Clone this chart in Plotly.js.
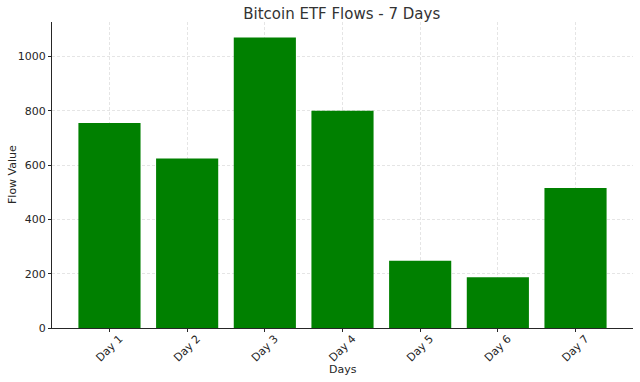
<!DOCTYPE html>
<html>
<head>
<meta charset="utf-8">
<script src="https://cdn.plot.ly/plotly-3.0.1.min.js"></script>
<style>html,body{margin:0;padding:0;background:#fff;}#chart{width:640px;height:382px;}</style>
</head>
<body>
<div id="chart"></div>
<script>
const days = ["Day 1", "Day 2", "Day 3", "Day 4", "Day 5", "Day 6", "Day 7"];
const flows = [755, 624, 1070, 800, 248, 187, 516];

const trace = {
  type: "bar",
  x: days,
  y: flows,
  width: 0.8,
  marker: {color: "#008000", line: {width: 0}},
  hoverinfo: "x+y"
};

const layout = {
  width: 640,
  height: 382,
  margin: {l: 52, r: 7, t: 22, b: 54},
  paper_bgcolor: "#ffffff",
  plot_bgcolor: "#ffffff",
  font: {family: "DejaVu Sans, sans-serif", size: 11, color: "#262626"},
  title: {text: "Bitcoin ETF Flows - 7 Days", x: 0.534, xanchor: "center", y: 0.964, yanchor: "middle",
          font: {size: 15, color: "#333333"}},
  xaxis: {
    range: [-0.74, 6.74],
    tickangle: -45,
    ticklabelshift: 10,
    ticklabelstandoff: -4,
    showline: true, linecolor: "#262626", linewidth: 1,
    ticks: "outside", ticklen: 3, tickcolor: "#262626",
    showgrid: true, gridcolor: "#dedede", griddash: "3px,2px", gridwidth: 0.8,
    zeroline: false,
    mirror: false
  },
  yaxis: {
    range: [0, 1127],
    tickvals: [0, 200, 400, 600, 800, 1000],
    showline: true, linecolor: "#262626", linewidth: 1,
    ticks: "outside", ticklen: 3, tickcolor: "#262626",
    showgrid: true, gridcolor: "#dedede", griddash: "3px,2px", gridwidth: 0.8,
    zeroline: false,
    mirror: false
  },
  annotations: [
    {text: "Days", xref: "paper", yref: "paper", x: 0.5, y: 0, yshift: -41, xanchor: "center", yanchor: "middle",
     showarrow: false, font: {size: 11, color: "#262626"}},
    {text: "Flow Value", xref: "paper", yref: "paper", x: 0, xshift: -40, y: 0.5, xanchor: "center", yanchor: "middle",
     textangle: -90, showarrow: false, font: {size: 11, color: "#262626"}}
  ],
  bargap: 0.2,
  showlegend: false
};

Plotly.newPlot("chart", [trace], layout, {displayModeBar: false, staticPlot: true});
</script>
</body>
</html>
